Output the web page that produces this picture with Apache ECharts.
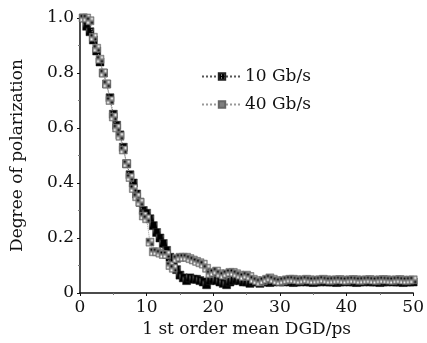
<!DOCTYPE html>
<html>
<head>
<meta charset="utf-8">
<script src="https://cdn.jsdelivr.net/npm/echarts@6/dist/echarts.min.js"></script>
<style>
  html, body { margin: 0; padding: 0; background: #fff; }
  #chart { width: 427px; height: 343px; }
</style>
</head>
<body>
<div id="chart"></div>
<script>
// DOP versus first-order mean DGD, two bit rates.
const dgd = [
  0.5, 1, 1.5, 2, 2.5, 3, 3.5, 4, 4.5, 5, 5.5, 6, 6.5, 7, 7.5, 8, 8.5, 9, 9.5, 10,
  10.5, 11, 11.5, 12, 12.5, 13, 13.5, 14, 14.5, 15, 15.5, 16, 16.5, 17, 17.5, 18, 18.5, 19, 19.5, 20,
  20.5, 21, 21.5, 22, 22.5, 23, 23.5, 24, 24.5, 25, 25.5, 26, 26.5, 27, 27.5, 28, 28.5, 29, 29.5, 30,
  30.5, 31, 31.5, 32, 32.5, 33, 33.5, 34, 34.5, 35, 35.5, 36, 36.5, 37, 37.5, 38, 38.5, 39, 39.5, 40,
  40.5, 41, 41.5, 42, 42.5, 43, 43.5, 44, 44.5, 45, 45.5, 46, 46.5, 47, 47.5, 48, 48.5, 49, 49.5, 50
]

const dop10 = [
  1.00, 0.97, 0.95, 0.92, 0.88, 0.84, 0.80, 0.76, 0.71, 0.65, 0.61, 0.575, 0.53, 0.47, 0.43, 0.40, 0.36, 0.33, 0.30, 0.29,
  0.27, 0.245, 0.22, 0.20, 0.18, 0.155, 0.13, 0.11, 0.085, 0.065, 0.055, 0.045, 0.055, 0.05, 0.05, 0.045, 0.04, 0.03, 0.045, 0.05,
  0.045, 0.04, 0.035, 0.03, 0.04, 0.045, 0.05, 0.045, 0.04, 0.04, 0.035, 0.04, 0.04, 0.035, 0.04, 0.04, 0.038, 0.04, 0.042, 0.04,
  0.04, 0.042, 0.04, 0.038, 0.04, 0.04, 0.042, 0.04, 0.04, 0.038, 0.04, 0.04, 0.042, 0.04, 0.04, 0.04, 0.038, 0.04, 0.04, 0.042,
  0.04, 0.04, 0.038, 0.04, 0.04, 0.042, 0.04, 0.04, 0.04, 0.038, 0.04, 0.04, 0.042, 0.04, 0.04, 0.04, 0.038, 0.04, 0.04, 0.04
]

const dop40 = [
  1.00, 1.00, 0.99, 0.93, 0.89, 0.85, 0.80, 0.76, 0.70, 0.64, 0.60, 0.57, 0.52, 0.47, 0.42, 0.38, 0.35, 0.33, 0.28, 0.27,
  0.185, 0.15, 0.15, 0.145, 0.14, 0.14, 0.10, 0.09, 0.125, 0.13, 0.13, 0.13, 0.125, 0.12, 0.115, 0.11, 0.105, 0.09, 0.07, 0.075,
  0.08, 0.07, 0.065, 0.07, 0.075, 0.075, 0.07, 0.065, 0.06, 0.065, 0.06, 0.05, 0.045, 0.04, 0.045, 0.05, 0.055, 0.05, 0.045, 0.042,
  0.045, 0.048, 0.05, 0.05, 0.048, 0.046, 0.048, 0.05, 0.048, 0.046, 0.047, 0.048, 0.05, 0.048, 0.046, 0.047, 0.048, 0.049, 0.047, 0.046,
  0.048, 0.049, 0.048, 0.046, 0.047, 0.048, 0.049, 0.047, 0.046, 0.048, 0.049, 0.048, 0.047, 0.046, 0.048, 0.049, 0.047, 0.046, 0.047, 0.048
]

const seriesNames = ["10 Gb/s", "40 Gb/s"]
const yTicks = ["0", "0.2", "0.4", "0.6", "0.8", "1.0"]

const SERIF = "'DejaVu Serif', 'Liberation Serif', serif"
const INK = "#111"

// halftone-ish fills, like the printed markers
function tile(size, dark) {
  const c = document.createElement("canvas")
  c.width = size
  c.height = size
  const g = c.getContext("2d")
  g.fillStyle = "#fff"
  g.fillRect(0, 0, size, size)
  g.fillStyle = "#000"
  for (const [x, y] of dark) g.fillRect(x, y, 1, 1)
  return {image: c, repeat: "repeat"}
}
const solidFill = tile(3, [[0, 0], [1, 0], [2, 0], [0, 1], [1, 1], [2, 1], [0, 2], [2, 2]])
const checkFill = tile(2, [[0, 0], [1, 1]])

const pairs = ys => dgd.map((x, i) => [x, ys[i]])

const chart = echarts.init(document.getElementById("chart"), null, {renderer: "canvas"})

chart.setOption({
  animation: false,
  textStyle: {fontFamily: SERIF, color: INK},
  grid: {left: 80, right: 13, top: 18, bottom: 50},
  legend: {
    orient: "vertical",
    left: 196,
    top: 63,
    itemWidth: 40,
    itemHeight: 8,
    itemGap: 11,
    textStyle: {fontFamily: SERIF, fontSize: 17, color: INK, padding: [0, 0, 0, -2]},
    data: seriesNames
  },
  xAxis: {
    type: "value",
    min: 0,
    max: 50,
    interval: 10,
    name: "1 st order mean DGD/ps",
    nameLocation: "middle",
    nameGap: 28,
    nameTextStyle: {fontFamily: SERIF, fontSize: 17, color: INK},
    axisLine: {lineStyle: {color: INK, width: 1.5}},
    axisTick: {length: 3, lineStyle: {color: INK}},
    minorTick: {show: true, splitNumber: 2, length: 2, lineStyle: {color: "#777"}},
    axisLabel: {fontFamily: SERIF, fontSize: 17, color: INK, margin: 6},
    splitLine: {show: false}
  },
  yAxis: {
    type: "value",
    min: 0,
    max: 1,
    interval: 0.2,
    name: "Degree of polarization",
    nameLocation: "middle",
    nameGap: 54,
    nameTextStyle: {fontFamily: SERIF, fontSize: 17, color: INK},
    axisLine: {show: true, lineStyle: {color: INK, width: 1.5}},
    axisTick: {show: true, length: 3, lineStyle: {color: INK}},
    minorTick: {show: true, splitNumber: 2, length: 2, lineStyle: {color: "#777"}},
    axisLabel: {
      fontFamily: SERIF, fontSize: 17, color: INK, margin: 6,
      formatter: v => yTicks[Math.round(v * 5)]
    },
    splitLine: {show: false}
  },
  series: [
    {
      name: seriesNames[0],
      type: "line",
      data: pairs(dop10),
      symbol: "rect",
      symbolSize: 8,
      showAllSymbol: true,
      z: 2,
      lineStyle: {color: "#555", width: 1, type: "dotted"},
      itemStyle: {color: solidFill, borderColor: "#222", borderWidth: 0.5}
    },
    {
      name: seriesNames[1],
      type: "line",
      data: pairs(dop40),
      symbol: "rect",
      symbolSize: 8,
      showAllSymbol: true,
      z: 3,
      lineStyle: {color: "#999", width: 1, type: "dotted"},
      itemStyle: {color: checkFill, borderColor: "#666", borderWidth: 0.5}
    }
  ]
})
</script>
</body>
</html>
